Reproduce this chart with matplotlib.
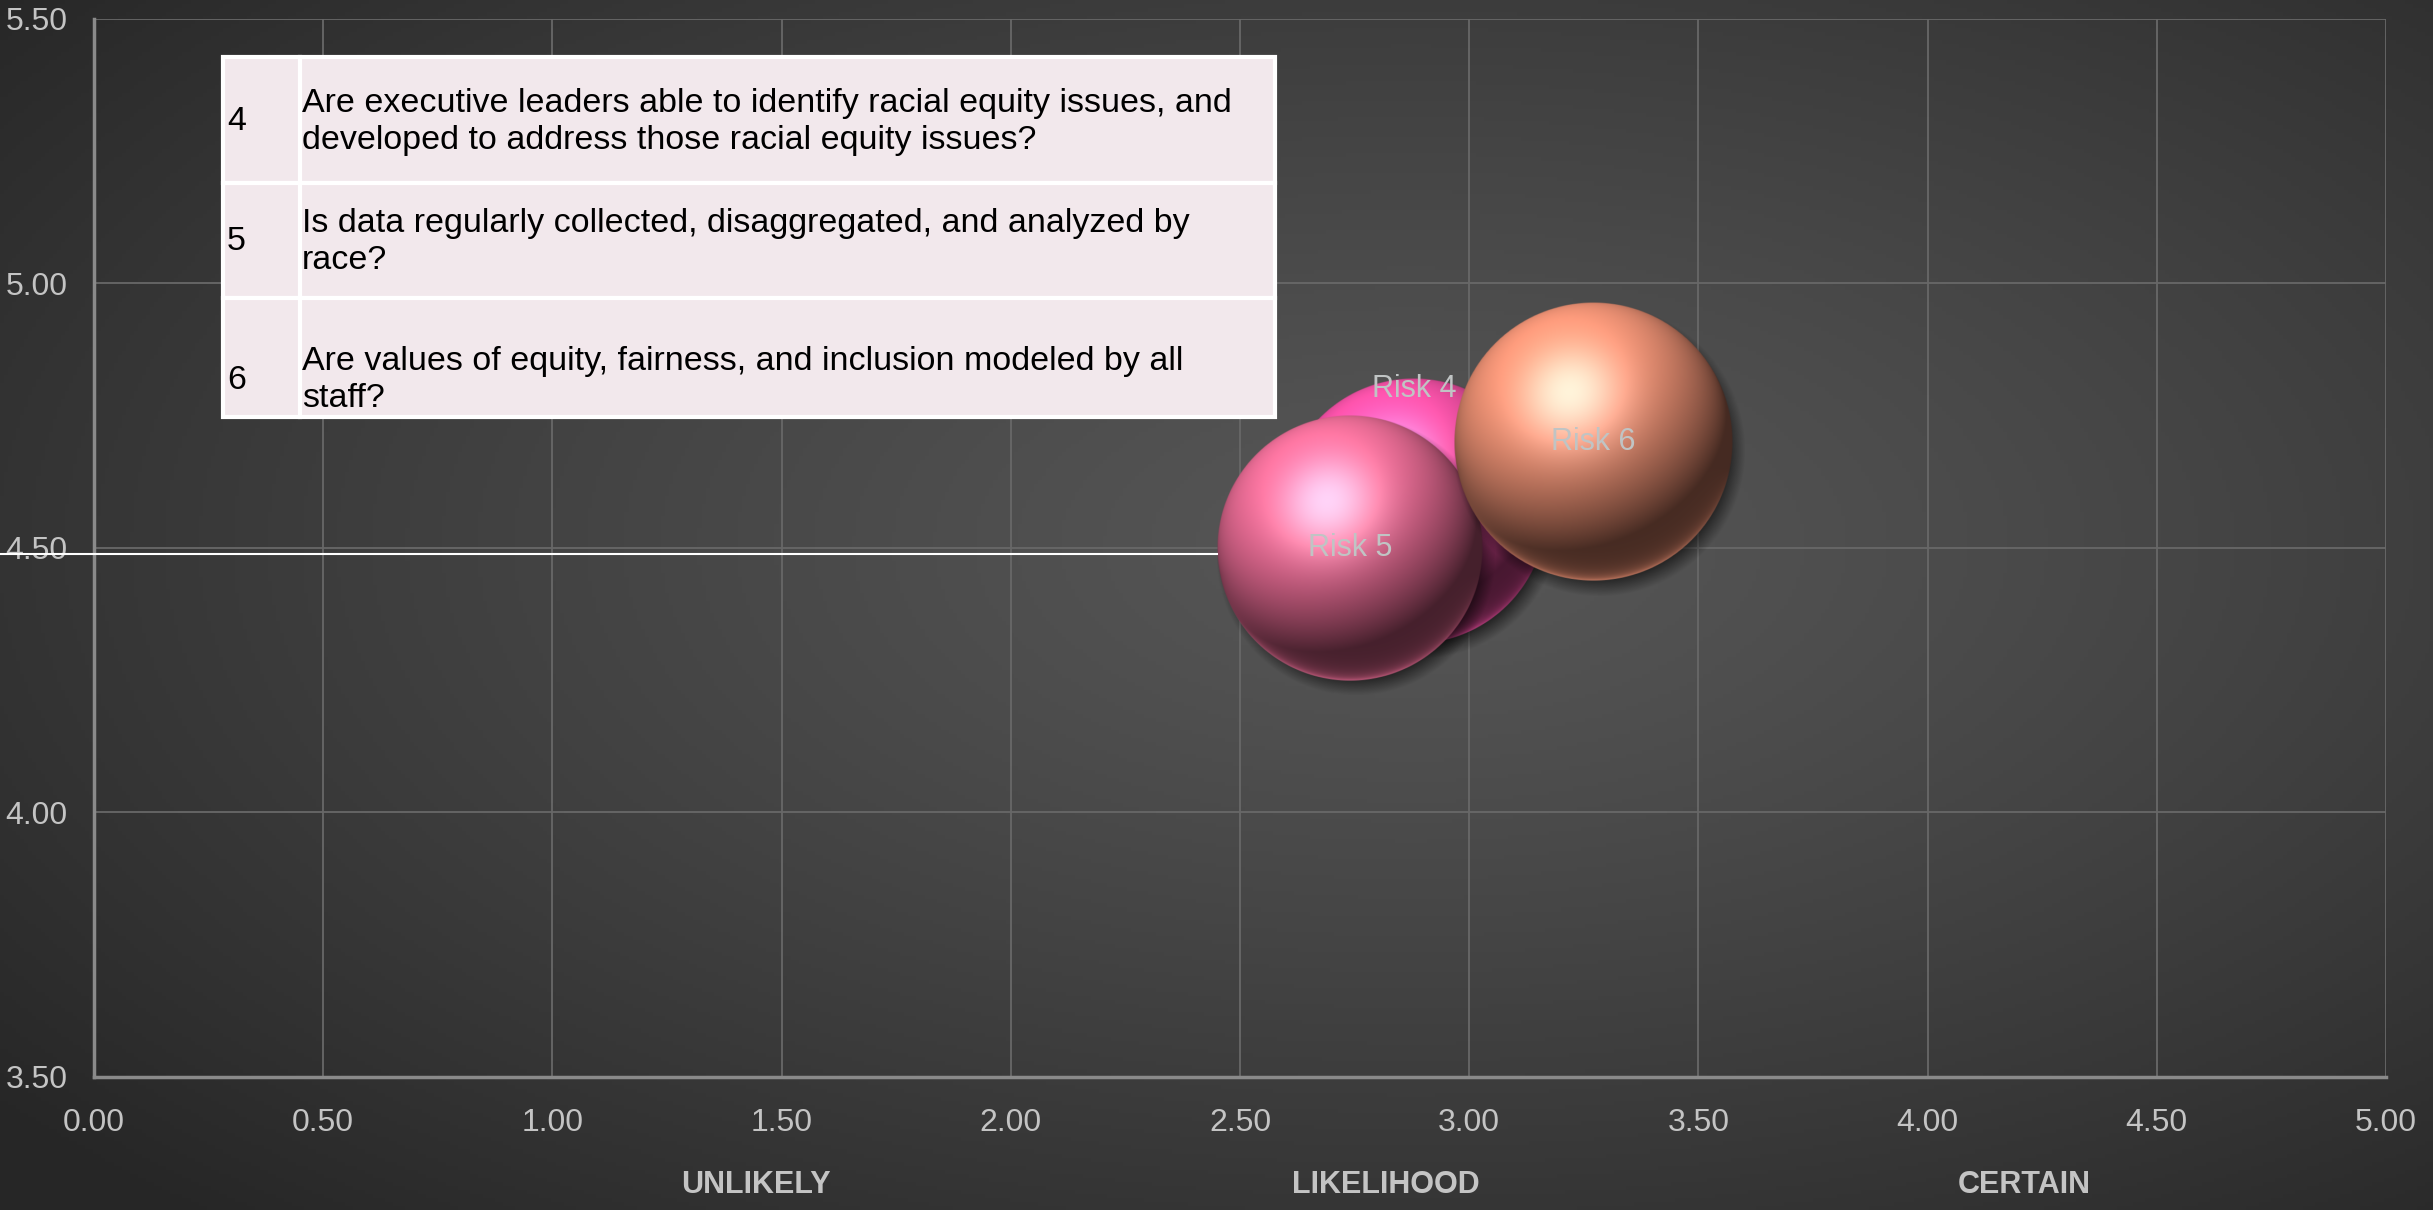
# Risk bubble chart: likelihood vs. impact, with shaded 3D-style bubbles
import numpy as np
import matplotlib.pyplot as plt
from matplotlib.patches import Rectangle
from matplotlib.transforms import blended_transform_factory

# Bubble data
risk_names = ['Risk 4', 'Risk 5', 'Risk 6']
likelihood = [2.88, 2.74, 3.27]
impact = [4.57, 4.50, 4.70]
bubble_size = [4.2, 4.2, 4.6]
bubble_colors = [(1.00, 0.33, 0.68), (0.97, 0.45, 0.62), (0.98, 0.60, 0.48)]

# Question table shown in the top-left corner
question_ids = ['4', '5', '6']
questions = [
    'Are executive leaders able to identify racial equity issues, and\ndeveloped to address those racial equity issues?',
    'Is data regularly collected, disaggregated, and analyzed by\nrace?',
    'Are values of equity, fairness, and inclusion modeled by all\nstaff?',
]

x_ticks = np.arange(0, 5.01, 0.5)
y_ticks = np.arange(3.5, 5.51, 0.5)
category_labels = ['UNLIKELY', 'LIKELIHOOD', 'CERTAIN']
category_x = [0.3106, 0.5695, 0.832]   # figure fraction

FONT = 'Liberation Sans'
W, H = 2433, 1210
fig = plt.figure(figsize=(W / 100, H / 100), dpi=100)

# radial gradient background
bg = fig.add_axes([0, 0, 1, 1], zorder=-10)
gy, gx = np.mgrid[0:1:300j, 0:1:600j]
d = np.sqrt(((gx - 0.58) / 0.75) ** 2 + ((gy - 0.45) / 0.75) ** 2)
shade = 0.34 - 0.19 * np.clip(d, 0, 1) ** 1.2
bg.imshow(np.dstack([shade] * 3), extent=[0, 1, 0, 1], aspect='auto', origin='upper')
bg.set_axis_off()

ax = fig.add_axes([94 / W, 1 - 1077 / H, (2386 - 94) / W, (1077 - 18.6) / H])
ax.set_facecolor('none')
ax.set_xlim(0, 5)
ax.set_ylim(3.5, 5.5)
ax.set_xticks(x_ticks)
ax.set_yticks(y_ticks)
ax.set_xticklabels([f'{v:.2f}' for v in x_ticks])
ax.set_yticklabels([f'{v:.2f}' for v in y_ticks])
ax.tick_params(length=0, labelsize=23, labelcolor='#c4c4c4')
ax.tick_params(axis='y', pad=19)
ax.tick_params(axis='x', pad=22)
for lbl in ax.get_xticklabels() + ax.get_yticklabels():
    lbl.set_fontfamily(FONT)
ax.grid(True, color='#686868', linewidth=1.3)
ax.set_axisbelow(True)
for side in ['top', 'right']:
    ax.spines[side].set_visible(False)
for side in ['left', 'bottom']:
    ax.spines[side].set_color('#8a8a8a')
    ax.spines[side].set_linewidth(2.5)


def sphere_image(rgb, n=500):
    yy, xx = np.mgrid[1:-1:n * 1j, -1:1:n * 1j]
    rr = np.sqrt(xx ** 2 + yy ** 2)
    nz = np.sqrt(np.clip(1 - rr ** 2, 0, 1))
    light = np.array([-0.30, 0.62, 0.72])
    light /= np.linalg.norm(light)
    diff = np.clip(xx * light[0] + yy * light[1] + nz * light[2], 0, 1)
    half = light + np.array([0, 0, 1.0])
    half /= np.linalg.norm(half)
    spec = np.clip(xx * half[0] + yy * half[1] + nz * half[2], 0, 1) ** 14
    base = np.array(rgb)
    col = base * (0.28 + 0.80 * diff[..., None])
    # reflected light along the lower rim
    rim = np.clip(-yy - 0.2, 0, 1) * np.clip(1 - nz, 0, 1) ** 4
    col = col + base * 0.9 * rim[..., None]
    col = col + spec[..., None] * 0.45 * (1 - col * 0.4)
    col = np.clip(col, 0, 1)
    alpha = np.clip((1 - rr) * n / 2, 0, 1)
    return np.dstack([col, alpha])


def shadow_image(n=300):
    yy, xx = np.mgrid[1:-1:n * 1j, -1:1:n * 1j]
    rr = np.sqrt(xx ** 2 + yy ** 2)
    a = np.clip((1 - rr) / 0.12, 0, 1) * 0.55
    return np.dstack([np.zeros_like(a)] * 3 + [a])


fig.canvas.draw()
ax_w = ax.get_window_extent().width
ax_h = ax.get_window_extent().height
max_r = 0.263 * min(ax_w, ax_h) / 2
radii_px = [max_r * np.sqrt(s / max(bubble_size)) for s in bubble_size]

for i, (x, y, r, c) in enumerate(zip(likelihood, impact, radii_px, bubble_colors)):
    rx = r / ax_w * 5
    ry = r / ax_h * 2
    # soft drop shadow
    sx, sy = 6 / ax_w * 5, -9 / ax_h * 2
    ax.imshow(shadow_image(), extent=[x - rx * 1.05 + sx, x + rx * 1.05 + sx,
                                      y - ry * 1.05 + sy, y + ry * 1.05 + sy],
              aspect='auto', zorder=3 + 2 * i, interpolation='bilinear')
    ax.imshow(sphere_image(c), extent=[x - rx, x + rx, y - ry, y + ry],
              aspect='auto', zorder=4 + 2 * i, interpolation='bilinear')

ax.set_xlim(0, 5)
ax.set_ylim(3.5, 5.5)

# data labels
label_offsets = [(0, 88), (0, 0), (0, 0)]
for name, x, y, off in zip(risk_names, likelihood, impact, label_offsets):
    ax.annotate(name, (x, y), xytext=off, textcoords='offset points',
                ha='center', va='center', fontsize=22, color='#c0c4c4',
                family=FONT, zorder=20)

# white guide line at the Risk 5 level, from the left edge to the bubble
r5 = radii_px[1] / ax_w * 5
x_end = ax.transData.transform((likelihood[1] - r5, 0))[0] / W
line_tr = blended_transform_factory(fig.transFigure, ax.transData)
fig.add_artist(plt.Line2D([0, x_end], [4.488, 4.488], transform=line_tr,
                          color='white', linewidth=1.5, zorder=5))

# axis category labels
for lbl, cx in zip(category_labels, category_x):
    fig.text(cx, 1 - 1185 / H, lbl, ha='center', va='center', fontsize=22,
             fontweight='bold', color='#c4c4c4', family=FONT)

# question table
tx0, tx1, tcol = 223 / W, 1275 / W, 300 / W
row_edges = [57, 183, 298, 417]
text_y = [122, 242, 380]
for i, (qid, q) in enumerate(zip(question_ids, questions)):
    top, bot = row_edges[i], row_edges[i + 1]
    fig.add_artist(Rectangle((tx0, 1 - bot / H), tx1 - tx0, (bot - top) / H,
                             transform=fig.transFigure, facecolor='#f2e8ec',
                             edgecolor='white', linewidth=3, zorder=30))
    fig.add_artist(plt.Line2D([tcol, tcol], [1 - top / H, 1 - bot / H],
                              transform=fig.transFigure, color='white',
                              linewidth=3, zorder=31))
    fig.text(227 / W, 1 - text_y[i] / H, qid, ha='left', va='center',
             fontsize=24.5, color='black', family=FONT, zorder=32)
    fig.text(302 / W, 1 - text_y[i] / H, q, ha='left', va='center',
             fontsize=24.5, color='black', family=FONT, linespacing=1.25, zorder=32)

fig.savefig('out.png', dpi=100)
